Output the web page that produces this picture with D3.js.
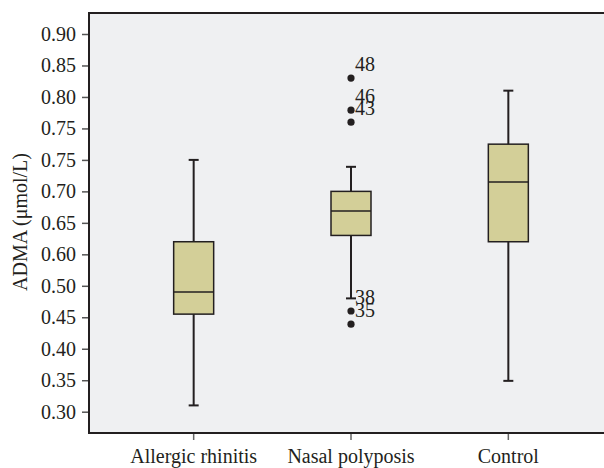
<!DOCTYPE html>
<html>
<head>
<meta charset="utf-8">
<script src="https://cdn.jsdelivr.net/npm/d3@7"></script>
<style>
  body { margin: 0; background: #fff; }
  text { font-family: "Liberation Serif", "Times New Roman", serif; fill: #231f20; }
</style>
</head>
<body>
<div id="chart"></div>
<script>
// groups and their box statistics (values on the axis scale)
var categories = ["Allergic rhinitis", "Nasal polyposis", "Control"];
var whiskerLow  = [0.310, 0.480, 0.349];
var q1          = [0.455, 0.580, 0.570];
var median      = [0.490, 0.619, 0.665];
var q3          = [0.570, 0.650, 0.725];
var whiskerHigh = [0.700, 0.689, 0.810];

// outliers: [group, value, case label]
var outliers = [
  ["Nasal polyposis", 0.830, "48"],
  ["Nasal polyposis", 0.779, "46"],
  ["Nasal polyposis", 0.760, "43"],
  ["Nasal polyposis", 0.460, "38"],
  ["Nasal polyposis", 0.439, "35"]
];

// tick labels as printed on the original axis (bottom to top)
var tickValues = [0.30, 0.35, 0.40, 0.45, 0.50, 0.55, 0.60, 0.65, 0.70, 0.75, 0.80, 0.85, 0.90];
var tickLabels = ["0.30", "0.35", "0.40", "0.45", "0.50", "0.60", "0.65", "0.70", "0.75", "0.75", "0.80", "0.85", "0.90"];

var width = 604, height = 468;
var margin = {top: 13, right: 0, bottom: 35, left: 89};

var svg = d3.select("#chart").append("svg")
  .attr("width", width)
  .attr("height", height);

var x = d3.scaleBand()
  .domain(categories)
  .range([115, 587]);

var y = d3.scaleLinear()
  .domain([0.30, 0.90])
  .range([411.7, 34]);

// plot background
svg.append("rect")
  .attr("x", margin.left).attr("y", margin.top)
  .attr("width", width - margin.left - margin.right)
  .attr("height", height - margin.bottom - margin.top)
  .attr("fill", "#eff0f2");

// top border
svg.append("line")
  .attr("x1", margin.left).attr("x2", width)
  .attr("y1", margin.top).attr("y2", margin.top)
  .attr("stroke", "#231f20").attr("stroke-width", 2);

// y axis
var yAxis = d3.axisLeft(y)
  .tickValues(tickValues)
  .tickSize(7)
  .tickPadding(6)
  .tickFormat(function(d, i) { return tickLabels[i]; });

var gy = svg.append("g")
  .attr("transform", "translate(" + margin.left + ",0)")
  .call(yAxis);
gy.select(".domain").remove();
gy.selectAll(".tick line").attr("stroke", "#555").attr("stroke-width", 1.5);
gy.selectAll(".tick text").attr("font-size", "20px")
  .style("font-family", "'Liberation Serif', serif").attr("fill", "#231f20");
svg.append("line")
  .attr("x1", margin.left).attr("x2", margin.left)
  .attr("y1", margin.top - 1).attr("y2", height - margin.bottom + 1)
  .attr("stroke", "#231f20").attr("stroke-width", 2);

// x axis
var xAxis = d3.axisBottom(x).tickSize(7).tickPadding(9);
var gx = svg.append("g")
  .attr("transform", "translate(0," + (height - margin.bottom) + ")")
  .call(xAxis);
gx.select(".domain").remove();
gx.selectAll(".tick line").attr("stroke", "#666").attr("stroke-width", 1.5);
gx.selectAll(".tick text").attr("font-size", "20px")
  .style("font-family", "'Liberation Serif', serif").attr("fill", "#231f20");
svg.append("line")
  .attr("x1", margin.left - 1).attr("x2", width)
  .attr("y1", height - margin.bottom).attr("y2", height - margin.bottom)
  .attr("stroke", "#231f20").attr("stroke-width", 2);

// y axis title
svg.append("text")
  .attr("transform", "translate(27," + 222 + ") rotate(-90)")
  .attr("text-anchor", "middle")
  .attr("font-size", "20px")
  .text("ADMA (\u03bcmol/L)");

// boxes
var boxW = 40, capW = 10;
var boxes = svg.append("g").selectAll("g")
  .data(categories)
  .enter().append("g");

boxes.each(function(c, i) {
  var g = d3.select(this);
  var cx = x(c) + x.bandwidth() / 2;
  // whisker
  g.append("line")
    .attr("x1", cx).attr("x2", cx)
    .attr("y1", y(whiskerLow[i])).attr("y2", y(whiskerHigh[i]))
    .attr("stroke", "#231f20").attr("stroke-width", 2);
  // caps
  [whiskerLow[i], whiskerHigh[i]].forEach(function(v) {
    g.append("line")
      .attr("x1", cx - capW / 2).attr("x2", cx + capW / 2)
      .attr("y1", y(v)).attr("y2", y(v))
      .attr("stroke", "#231f20").attr("stroke-width", 2);
  });
  // box
  g.append("rect")
    .attr("x", cx - boxW / 2)
    .attr("y", y(q3[i]))
    .attr("width", boxW)
    .attr("height", y(q1[i]) - y(q3[i]))
    .attr("fill", "#d3cf98")
    .attr("stroke", "#231f20").attr("stroke-width", 1.5);
  // median
  g.append("line")
    .attr("x1", cx - boxW / 2).attr("x2", cx + boxW / 2)
    .attr("y1", y(median[i])).attr("y2", y(median[i]))
    .attr("stroke", "#231f20").attr("stroke-width", 1.5);
});

// outliers
var out = svg.append("g").selectAll("g")
  .data(outliers)
  .enter().append("g")
  .attr("transform", function(d) {
    return "translate(" + (x(d[0]) + x.bandwidth() / 2) + "," + y(d[1]) + ")";
  });
out.append("circle").attr("r", 3.6).attr("fill", "#231f20");
out.append("text")
  .attr("x", 4).attr("y", -7)
  .attr("font-size", "20px")
  .text(function(d) { return d[2]; });
</script>
</body>
</html>
